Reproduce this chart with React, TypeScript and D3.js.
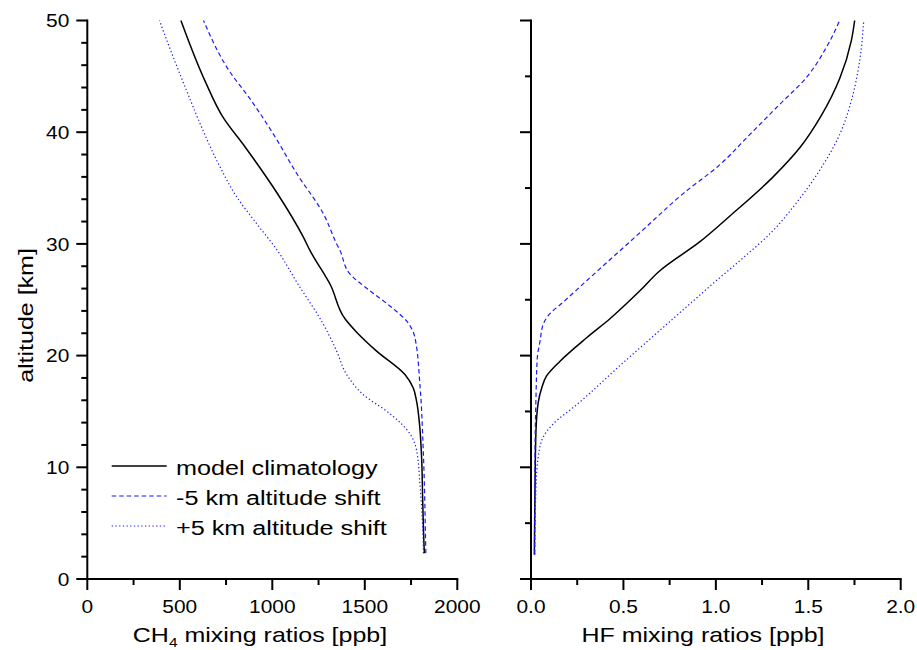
import React from "react";
import * as d3 from "d3";

// [altitude km, CH4 ppb]
const ch4Model: [number, number][] = [
  [2.3, 1822], [3.1, 1820], [7, 1813], [10.9, 1807], [14, 1795], [15.9, 1780], [17.1, 1762],
  [18.3, 1717], [20.4, 1564], [22.1, 1456], [23.3, 1393], [26.3, 1315], [29.4, 1204],
  [30.6, 1168], [34.6, 1024], [38.7, 852], [41.3, 735], [44.6, 636], [50, 506],
];
const ch4Minus5: [number, number][] = [
  [2.3, 1830], [3.1, 1829], [11.5, 1816], [17.4, 1798], [21.6, 1771], [23.1, 1726],
  [24.2, 1654], [25.8, 1528], [27.3, 1420], [29.4, 1366], [30.0, 1348], [32.7, 1276],
  [36.3, 1132], [39.8, 1007], [43.0, 879], [45.4, 771], [50, 628],
];
const ch4Plus5: [number, number][] = [
  [2.3, 1817], [3.1, 1816], [8.5, 1798], [11.5, 1780], [13.0, 1744], [14.8, 1636],
  [16.5, 1492], [18.3, 1402], [20.4, 1348], [22.8, 1276], [26.5, 1135], [29.4, 1028],
  [31.8, 916], [34.2, 808], [36.9, 717], [40.1, 627], [43.7, 537], [46.7, 465], [50, 390],
];
// [altitude km, HF ppb]
const hfModel: [number, number][] = [
  [2.2, 0.018], [8.8, 0.022], [13.3, 0.027], [15.8, 0.039], [17.1, 0.058], [18.2, 0.085],
  [19.5, 0.157], [21.6, 0.301], [23.3, 0.427], [25.8, 0.589], [27.6, 0.697], [30.2, 0.914],
  [32.5, 1.076], [36.0, 1.31], [38.6, 1.454], [41.5, 1.571], [44.8, 1.67], [48.2, 1.733], [50, 1.751],
];
const hfMinus5: [number, number][] = [
  [2.2, 0.02], [11.8, 0.022], [16.3, 0.027], [19.8, 0.034], [21.3, 0.049], [22.8, 0.066],
  [23.6, 0.094], [24.8, 0.175], [26.7, 0.301], [31.0, 0.589], [34.5, 0.823], [37.1, 1.022],
  [39.8, 1.184], [42.5, 1.346], [44.9, 1.49], [47.6, 1.598], [50, 1.67],
];
const hfPlus5: [number, number][] = [
  [2.2, 0.02], [8.2, 0.027], [10.9, 0.039], [12.7, 0.066], [13.9, 0.121], [15.6, 0.247],
  [19.1, 0.481], [22.8, 0.734], [24.2, 0.83], [26.6, 0.995], [28.5, 1.13], [31.2, 1.31],
  [33.3, 1.418], [36.6, 1.562], [39.8, 1.67], [43.4, 1.742], [46.4, 1.778], [50, 1.8],
];

const ch4TickLabels = ["0", "500", "1000", "1500", "2000"];
const hfTickLabels = ["0.0", "0.5", "1.0", "1.5", "2.0"];
const altTickLabels = ["0", "10", "20", "30", "40", "50"];
const legendLabels = ["model climatology", "-5 km altitude shift", "+5 km altitude shift"];

const FONT = "'Liberation Sans', Arial, Helvetica, sans-serif";
const BLUE = "#1a1aff";

function T(props: {
  x: number; y: number; sx?: number; rot?: number; anchor?: string; size: number; children: React.ReactNode;
}) {
  const { x, y, sx = 1, rot = 0, anchor = "start", size, children } = props;
  return (
    <g transform={`translate(${x},${y}) rotate(${rot}) scale(${sx},1)`}>
      <text textAnchor={anchor} fontSize={size} fontFamily={FONT} fill="#000">
        {children}
      </text>
    </g>
  );
}

const styles = [
  { stroke: "#000", width: 1.5, dash: undefined as string | undefined },
  { stroke: BLUE, width: 1.2, dash: "4.5,3" },
  { stroke: BLUE, width: 1.2, dash: "1.3,2.4" },
];

export default function App() {
  const W = 917, H = 650;
  const y = d3.scaleLinear().domain([0, 50]).range([579, 20.5]);
  const xL = d3.scaleLinear().domain([0, 2000]).range([87.3, 457.3]);
  const xR = d3.scaleLinear().domain([0, 2]).range([531, 900.7]);

  const lineL = d3.line<[number, number]>().x((d) => xL(d[1])).y((d) => y(d[0])).curve(d3.curveMonotoneY);
  const lineR = d3.line<[number, number]>().x((d) => xR(d[1])).y((d) => y(d[0])).curve(d3.curveMonotoneY);

  const axisColor = "#000";
  const aw = 2;
  const big = 11, small = 6;

  const yAxis = (x0: number, minorStep: number, labels: boolean) => {
    const minors = d3.range(0, 50.001, minorStep).filter((v) => Math.abs(v % 10) > 1e-6 && Math.abs((v % 10) - 10) > 1e-6);
    const majors = d3.range(0, 50.001, 10);
    return (
      <g>
        <line x1={x0} x2={x0} y1={y(50) - 1} y2={y(0)} stroke={axisColor} strokeWidth={aw} />
        {majors.map((v) => (
          <line key={"M" + v} x1={x0 - big} x2={x0} y1={y(v)} y2={y(v)} stroke={axisColor} strokeWidth={aw} />
        ))}
        {minors.map((v) => (
          <line key={"m" + v} x1={x0 - small} x2={x0} y1={y(v)} y2={y(v)} stroke={axisColor} strokeWidth={aw} />
        ))}
        {labels &&
          majors.map((v, i) => (
            <T key={"l" + v} x={x0 - 18} y={y(v) + 6.7} sx={1.1} anchor="end" size={19}>
              {altTickLabels[i]}
            </T>
          ))}
      </g>
    );
  };

  const xAxis = (sc: d3.ScaleLinear<number, number>, max: number, labels: string[]) => {
    const majors = d3.range(0, 5).map((i) => (i * max) / 4);
    const minors = d3.range(0, 4).map((i) => ((i + 0.5) * max) / 4);
    return (
      <g>
        <line x1={sc(0) - 1} x2={sc(max) + 1} y1={y(0)} y2={y(0)} stroke={axisColor} strokeWidth={aw} />
        {majors.map((v) => (
          <line key={"M" + v} x1={sc(v)} x2={sc(v)} y1={y(0)} y2={y(0) + big} stroke={axisColor} strokeWidth={aw} />
        ))}
        {minors.map((v) => (
          <line key={"m" + v} x1={sc(v)} x2={sc(v)} y1={y(0)} y2={y(0) + small} stroke={axisColor} strokeWidth={aw} />
        ))}
        {majors.map((v, i) => (
          <T key={"l" + v} x={sc(v)} y={612.7} sx={1.1} anchor="middle" size={19}>
            {labels[i]}
          </T>
        ))}
      </g>
    );
  };

  const ch4Series = [ch4Model, ch4Minus5, ch4Plus5];
  const hfSeries = [hfModel, hfMinus5, hfPlus5];

  return (
    <svg width={W} height={H} style={{ position: "absolute", left: 0, top: 0, background: "#fff" }}>
      <rect x={0} y={0} width={W} height={H} fill="#fff" />
      {ch4Series.map((s, i) => (
        <path key={"c" + i} d={lineL(s) || ""} fill="none" stroke={styles[i].stroke} strokeWidth={styles[i].width} strokeDasharray={styles[i].dash} />
      ))}
      {hfSeries.map((s, i) => (
        <path key={"h" + i} d={lineR(s) || ""} fill="none" stroke={styles[i].stroke} strokeWidth={styles[i].width} strokeDasharray={styles[i].dash} />
      ))}
      {yAxis(xL(0), 2, true)}
      {xAxis(xL, 2000, ch4TickLabels)}
      {yAxis(xR(0), 5, false)}
      {xAxis(xR, 2, hfTickLabels)}

      <T x={33} y={315.5} rot={-90} sx={1.19} anchor="middle" size={21}>altitude [km]</T>
      <T x={260} y={641.7} sx={1.19} anchor="middle" size={21}>
        CH<tspan fontSize={13} dy={5}>4</tspan><tspan dy={-5}> mixing ratios [ppb]</tspan>
      </T>
      <T x={703} y={641.7} sx={1.19} anchor="middle" size={21}>HF mixing ratios [ppb]</T>

      {legendLabels.map((lab, i) => (
        <g key={"lg" + i}>
          <line x1={111.7} x2={166.7} y1={466 + i * 30} y2={466 + i * 30} stroke={styles[i].stroke} strokeWidth={styles[i].width} strokeDasharray={styles[i].dash} />
          <T x={176} y={475 + i * 30} sx={1.2} size={21}>{lab}</T>
        </g>
      ))}
    </svg>
  );
}
